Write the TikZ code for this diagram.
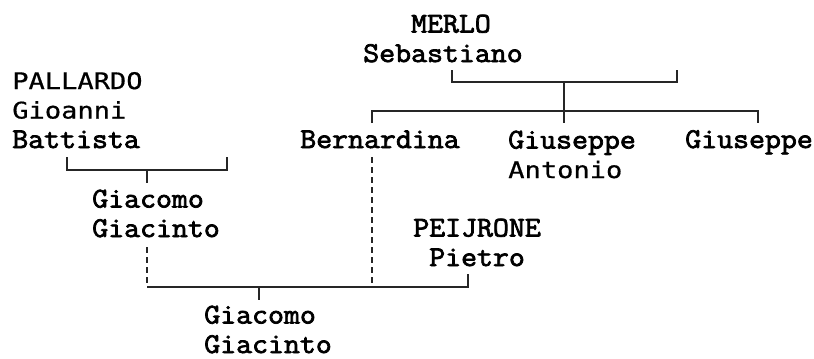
\documentclass[tikz,border=0pt]{standalone}
\usepackage{fontspec}
\usepackage{tikz}
\newfontfamily\monoserif[FakeStretch=1.08, FakeBold=2.6]{Latin Modern Mono}
\newfontfamily\monosans[FakeStretch=1.18, FakeBold=0.6]{DejaVu Sans Mono}
\newcommand{\srf}{\fontsize{21.5pt}{22.1pt}\monoserif}
\newcommand{\sns}{\fontsize{17.2pt}{22.1pt}\monosans}
\tikzset{
  person/.style={anchor=base west, inner sep=0pt, align=left, font=\srf},
  bar/.style={draw=black!85, line width=1pt},
  link/.style={bar, dash pattern=on 4.5pt off 3pt}
}

\begin{document}
\begin{tikzpicture}[x=0.75pt, y=-0.75pt]
  \useasboundingbox (0,0) rectangle (814,358);
  % people (anchored at the baseline of their last line)
  \node[person] (merlo) at (363,62) {\srf\hphantom{Seb}MERLO\\\srf Sebastiano};
  \node[person] (pallardo) at (12,148) {\sns PALLARDO\\\sns Gioanni\\\srf Battista};
  \node[person] (bernardina) at (300,148) {Bernardina};
  \node[person] (giuseppeA) at (508,178) {\srf Giuseppe\\\sns Antonio};
  \node[person] (giuseppe) at (685,148) {Giuseppe};
  \node[person] (giacomoL) at (92,237) {Giacomo\\Giacinto};
  \node[person] (peijrone) at (413,266) {\srf PEIJRONE\\\srf\hphantom{P}Pietro};
  \node[person] (giacomo) at (204,353) {Giacomo\\Giacinto};
  % junctions
  \coordinate (mL) at (452,70);  \coordinate (mR) at (677,70);
  \coordinate (mC) at (564,82);  \coordinate (kC) at (564,111);
  \coordinate (kL) at (372,123); \coordinate (kM) at (564,123); \coordinate (kR) at (758,123);
  \coordinate (pL) at (67,157);  \coordinate (pR) at (227,157);
  \coordinate (pC) at (147,170); \coordinate (pD) at (147,183);
  \coordinate (gT) at (147,247); \coordinate (bT) at (372,157);
  \coordinate (fL) at (147,287); \coordinate (fR) at (468,274);
  \coordinate (fC) at (259,287); \coordinate (fD) at (259,300);
  % MERLO family
  \draw[bar] (mL) |- (mC) -| (mR);
  \draw[bar] (mC) -- (kM);
  \draw[bar] (kL) |- (kC) -| (kR);
  % PALLARDO family
  \draw[bar] (pL) |- (pC) -| (pR);
  \draw[bar] (pC) -- (pD);
  % marriage
  \draw[link] (gT) -- (fL);
  \draw[link] (bT) -- (bT |- fL);
  \draw[bar] (fL) -| (fR);
  \draw[bar] (fC) -- (fD);
\end{tikzpicture}
\end{document}
